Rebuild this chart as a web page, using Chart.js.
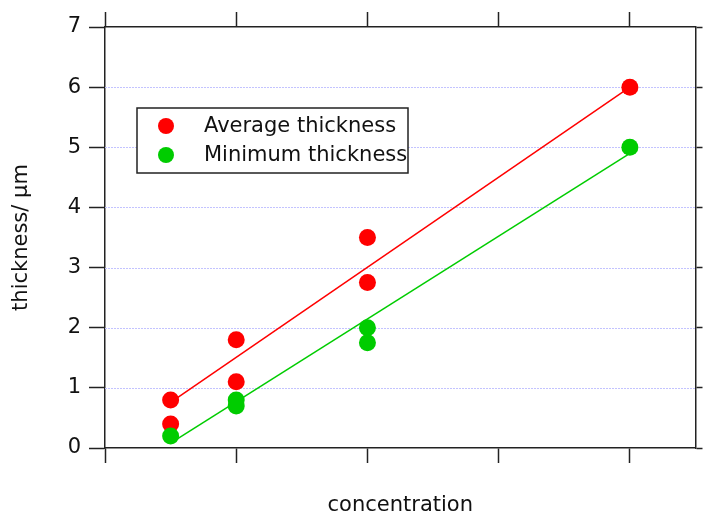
<!DOCTYPE html>
<html>
<head>
<meta charset="utf-8">
<script src="https://cdn.jsdelivr.net/npm/chart.js@4"></script>
<style>
  html, body { margin: 0; padding: 0; background: #fff; }
  #wrap { width: 704px; height: 519px; }
</style>
</head>
<body>
<div id="wrap"><canvas id="chart" width="704" height="519"></canvas></div>
<script>
// values
const avgConc = [1, 1, 2, 2, 4, 4, 8];
const avgThickness = [0.8, 0.4, 1.8, 1.1, 3.5, 2.75, 6.0];
const minConc = [1, 2, 2, 4, 4, 8];
const minThickness = [0.2, 0.8, 0.7, 2.0, 1.75, 5.0];
const fitConc = [1, 8];
const avgFit = [0.76, 6.0];
const minFit = [0.08, 4.9];
const xTicks = [0, 2, 4, 6, 8];
const yTicks = [0, 1, 2, 3, 4, 5, 6, 7];

const RED = '#ff0000';
const GREEN = '#00cc00';
const AXIS = '#222';
const GRID = 'rgb(195,195,255)';
const FONT = "'DejaVu Sans', sans-serif";

const pts = (xs, ys) => xs.map((x, i) => ({ x: x, y: ys[i] }));
const setTicks = (list) => (scale) => { scale.ticks = list.map((v) => ({ value: v })); };

// dotted lavender grid lines, drawn under the data
const dottedGrid = {
  id: 'dottedGrid',
  beforeDatasetsDraw(chart) {
    const { ctx, chartArea, scales } = chart;
    ctx.save();
    ctx.strokeStyle = GRID;
    ctx.lineWidth = 1;
    ctx.setLineDash([2, 1]);
    yTicks.slice(1, -1).forEach((v) => {
      const y = Math.round(scales.y.getPixelForValue(v)) + 0.5;
      ctx.beginPath();
      ctx.moveTo(chartArea.left, y);
      ctx.lineTo(chartArea.right, y);
      ctx.stroke();
    });
    ctx.restore();
  }
};

// legend box drawn inside the plot, like the original
const boxLegend = {
  id: 'boxLegend',
  afterDatasetsDraw(chart) {
    const ctx = chart.ctx;
    const items = chart.data.datasets.filter((d) => d.legendRow !== undefined)
      .sort((a, b) => a.legendRow - b.legendRow);
    ctx.save();
    ctx.fillStyle = '#fff';
    ctx.fillRect(137, 108, 271, 65);
    ctx.strokeStyle = AXIS;
    ctx.lineWidth = 1.5;
    ctx.strokeRect(137, 108, 271, 65);
    ctx.font = '21px ' + FONT;
    ctx.textBaseline = 'middle';
    items.forEach((d, i) => {
      const y = 126 + i * 29;
      ctx.beginPath();
      ctx.arc(166, y, 8, 0, Math.PI * 2);
      ctx.fillStyle = d.backgroundColor;
      ctx.fill();
      ctx.fillStyle = '#111';
      ctx.fillText(d.label, 204, y + 1);
    });
    ctx.restore();
  }
};

const edgeAxis = (position, size, tickLength, list) => ({
  type: 'linear',
  position: position,
  min: list[0],
  max: position === 'top' || position === 'bottom' ? 9 : 7,
  afterBuildTicks: setTicks(list),
  afterFit: (s) => { if (s.isHorizontal()) s.height = size; else s.width = size; },
  ticks: { display: false },
  grid: { drawOnChartArea: false, tickLength: tickLength, tickColor: AXIS, tickWidth: 1.5 },
  border: { color: AXIS, width: 1.5 },
});

new Chart(document.getElementById('chart'), {
  data: {
    datasets: [
      { type: 'scatter', label: 'Minimum thickness', legendRow: 1, data: pts(minConc, minThickness), backgroundColor: GREEN, pointRadius: 8.5, pointBorderWidth: 0, order: 0 },
      { type: 'scatter', label: 'Average thickness', legendRow: 0, data: pts(avgConc, avgThickness), backgroundColor: RED, pointRadius: 8.5, pointBorderWidth: 0, order: 1 },
      { type: 'line', label: 'Minimum fit', data: pts(fitConc, minFit), borderColor: GREEN, borderWidth: 1.5, pointRadius: 0, order: 2 },
      { type: 'line', label: 'Average fit', data: pts(fitConc, avgFit), borderColor: RED, borderWidth: 1.5, pointRadius: 0, order: 3 },
    ],
  },
  options: {
    responsive: false,
    animation: false,
    layout: { padding: 0 },
    plugins: { legend: { display: false }, tooltip: { enabled: false } },
    scales: {
      x: Object.assign(edgeAxis('bottom', 71, 15, xTicks), {
        title: { display: true, text: 'concentration', color: '#111', font: { family: FONT, size: 21 }, padding: { bottom: 1 } },
      }),
      x2: edgeAxis('top', 27, 15, xTicks),
      y: {
        type: 'linear',
        position: 'left',
        min: 0,
        max: 7,
        afterBuildTicks: setTicks(yTicks),
        afterFit: (s) => { s.width = 105; },
        ticks: { color: '#111', padding: 8, font: { family: FONT, size: 21 } },
        grid: { drawOnChartArea: false, tickLength: 16, tickColor: AXIS, tickWidth: 1.5 },
        border: { color: AXIS, width: 1.5 },
        title: { display: true, text: 'thickness/ μm', color: '#111', font: { family: FONT, size: 21 }, padding: { top: 9 } },
      },
      y2: edgeAxis('right', 7, 7, yTicks),
    },
  },
  plugins: [dottedGrid, boxLegend],
});
</script>
</body>
</html>
